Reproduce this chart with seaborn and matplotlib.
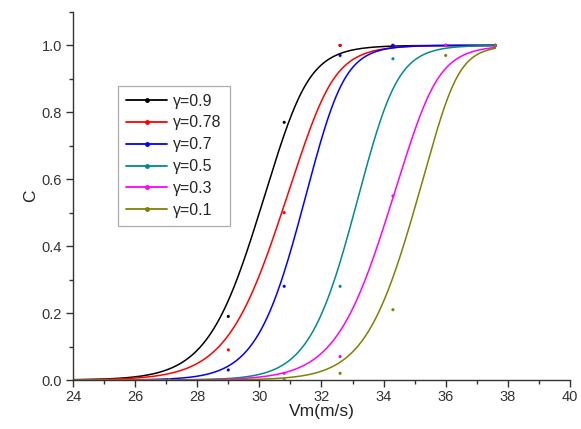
import numpy as np
import pandas as pd
import matplotlib
matplotlib.use("Agg")
import matplotlib.pyplot as plt
from matplotlib.lines import Line2D
from matplotlib.ticker import MultipleLocator
import seaborn as sns

# ---- data ----
gammas = ["γ=0.9", "γ=0.78", "γ=0.7", "γ=0.5", "γ=0.3", "γ=0.1"]
colors = ["#000000", "#ff0000", "#0000ff", "#008b8b", "#ff00ff", "#808000"]
v_meas = [27.1, 29.0, 30.8, 32.6, 34.3, 36.0, 37.6]
c_g09 = [0.0, 0.19, 0.77, 1.0, 1.0, 1.0, 1.0]
c_g078 = [0.0, 0.09, 0.50, 1.0, 1.0, 1.0, 1.0]
c_g07 = [0.0, 0.03, 0.28, 0.97, 1.0, 1.0, 1.0]
c_g05 = [0.0, 0.0, 0.0, 0.28, 0.96, 1.0, 1.0]
c_g03 = [0.0, 0.0, 0.02, 0.07, 0.55, 1.0, 1.0]
c_g01 = [0.0, 0.0, 0.0, 0.02, 0.21, 0.97, 1.0]
# fitted sigmoid curve parameters
fit_center = [30.0, 30.72, 31.35, 33.05, 34.15, 34.96]
fit_width_low = [0.86, 0.92, 0.75, 0.75, 0.88, 0.82]
fit_width_high = [0.70, 0.72, 0.60, 0.62, 0.68, 0.55]
v_range = [24.0, 37.6]

meas = [c_g09, c_g078, c_g07, c_g05, c_g03, c_g01]

rows = []
for g, cs in zip(gammas, meas):
    for v, c in zip(v_meas, cs):
        rows.append({"V": v, "C": c, "gamma": g})
df_pts = pd.DataFrame(rows)

vv = np.linspace(v_range[0], v_range[1], 500)
crow = []
for g, x0, wl, wh in zip(gammas, fit_center, fit_width_low, fit_width_high):
    blend = 1.0 / (1.0 + np.exp(-(vv - (x0 + 1.1 * wl)) / 0.5))
    w = wl + (wh - wl) * blend
    cc = 1.0 / (1.0 + np.exp(-(vv - x0) / w))
    crow.append(pd.DataFrame({"V": vv, "C": cc, "gamma": g}))
df_fit = pd.concat(crow, ignore_index=True)

sns.set_style("ticks")
plt.rcParams["font.family"] = ["Liberation Sans", "DejaVu Sans"]

fig = plt.figure(figsize=(5.81, 4.29), dpi=100)
ax = fig.add_axes([0.1256, 0.1142, 0.8554, 0.858])

pal = dict(zip(gammas, colors))
sns.lineplot(data=df_fit, x="V", y="C", hue="gamma", palette=pal, ax=ax,
             linewidth=1.1, legend=False, estimator=None, sort=True)
sns.scatterplot(data=df_pts, x="V", y="C", hue="gamma", palette=pal, ax=ax,
                s=5, linewidth=0, legend=False, zorder=3)

ax.set_xlim(24, 40)
ax.set_ylim(0, 1.1)
ax.xaxis.set_major_locator(MultipleLocator(2))
ax.xaxis.set_minor_locator(MultipleLocator(1))
ax.yaxis.set_minor_locator(MultipleLocator(0.1))
ax.set_yticks([0.0, 0.2, 0.4, 0.6, 0.8, 1.0])
ax.set_yticklabels(["0.0", "0.2", "0.4", "0.6", "0.8", "1.0"])
ax.set_xlabel("Vm(m/s)", fontsize=12.5, color="#222222", labelpad=0)
ax.set_ylabel("C", fontsize=12.5, color="#222222", labelpad=2)
for s in ["top", "right"]:
    ax.spines[s].set_visible(False)
for s in ["left", "bottom"]:
    ax.spines[s].set_color("#333333")
    ax.spines[s].set_linewidth(1.0)
ax.tick_params(axis="both", which="major", labelsize=10.5, colors="#333333",
               length=5, width=1.0, direction="out")
ax.tick_params(axis="both", which="minor", length=3, width=1.0,
               direction="out", colors="#333333")
ax.tick_params(axis="x", which="major", pad=2)
ax.tick_params(axis="y", which="major", pad=3)

handles = [Line2D([0], [0], color=c, lw=1.3, marker="o", markersize=2.5)
           for c in colors]
leg = ax.legend(handles, gammas, loc="upper left",
                bbox_to_anchor=(0.0905, 0.80), borderaxespad=0,
                fontsize=11.5, frameon=True,
                fancybox=False, handlelength=2.6, handletextpad=0.35,
                labelspacing=0.43, borderpad=0.5)
leg.get_frame().set_edgecolor("#999999")
leg.get_frame().set_linewidth(0.9)

fig.savefig("out.png", dpi=100)
